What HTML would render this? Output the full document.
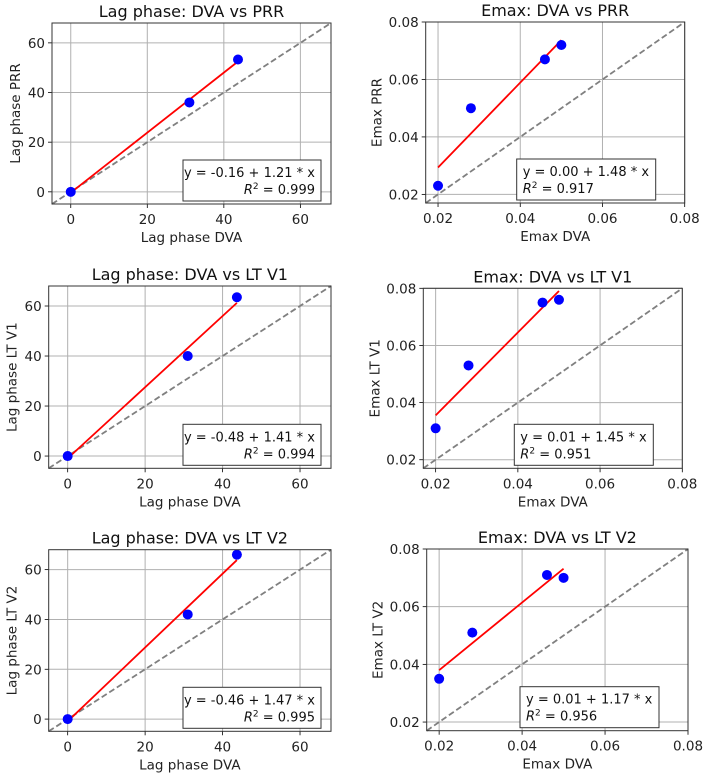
<!DOCTYPE html>
<html><head><meta charset="utf-8">
<style>
html,body{margin:0;padding:0;background:#fff;}
svg{display:block;font-family:"DejaVu Sans","Liberation Sans",sans-serif;}
</style></head>
<body>
<svg id="fig" width="708" height="774" viewBox="0 0 708 774" xmlns="http://www.w3.org/2000/svg"></svg>
<script>
const lagX = [0, 31, 43.7];
const lagPRR = [0, 36, 53.3];
const lagV1 = [0, 40, 63.5];
const lagV2 = [0, 42, 66];
const emaxX = [0.020, 0.028, 0.046, 0.050];
const emaxPRR = [0.023, 0.050, 0.067, 0.072];
const emaxV1 = [0.031, 0.053, 0.075, 0.076];
const emaxV2 = [0.035, 0.051, 0.071, 0.070];
const lagTicks = [0, 20, 40, 60];
const emaxTicks = [0.02, 0.04, 0.06, 0.08];
const lagTickLabels = ["0", "20", "40", "60"];
const emaxTickLabels = ["0.02", "0.04", "0.06", "0.08"];
const eqLabels = ["y = -0.16 + 1.21 * x", "y = 0.00 + 1.48 * x", "y = -0.48 + 1.41 * x", "y = 0.01 + 1.45 * x", "y = -0.46 + 1.47 * x", "y = 0.01 + 1.17 * x"];
const r2Labels = ["0.999", "0.917", "0.994", "0.951", "0.995", "0.956"];
const titles = ["Lag phase: DVA vs PRR", "Emax: DVA vs PRR", "Lag phase: DVA vs LT V1", "Emax: DVA vs LT V1", "Lag phase: DVA vs LT V2", "Emax: DVA vs LT V2"];
const xLabels = ["Lag phase DVA", "Emax DVA", "Lag phase DVA", "Emax DVA", "Lag phase DVA", "Emax DVA"];
const yLabels = ["Lag phase PRR", "Emax PRR", "Lag phase LT V1", "Emax LT V1", "Lag phase LT V2", "Emax LT V2"];

const NS = "http://www.w3.org/2000/svg";
const fig = document.getElementById('fig');
function mk(tag, attrs, parent){const e=document.createElementNS(NS,tag);for(const k in attrs)e.setAttribute(k,attrs[k]);(parent||fig).appendChild(e);return e;}

const boxes = [
 {l:52,r:331,t:23,b:204},{l:425.7,r:684.7,t:22,b:203},
 {l:48.7,r:331,t:286,b:468.3},{l:423.3,r:682.3,t:288.3,b:468.3},
 {l:48.7,r:331,t:549.7,b:731.3},{l:426.7,r:688,t:549,b:730.7}
];
const panels = [
 {xs:lagX,ys:lagPRR,lag:true},{xs:emaxX,ys:emaxPRR,lag:false},
 {xs:lagX,ys:lagV1,lag:true},{xs:emaxX,ys:emaxV1,lag:false},
 {xs:lagX,ys:lagV2,lag:true},{xs:emaxX,ys:emaxV2,lag:false}
];

panels.forEach((p,i)=>{
 const B=boxes[i];
 const lim = p.lag ? [-4.9,68] : [0.0170,0.080];
 const sx=v=>B.l+(v-lim[0])/(lim[1]-lim[0])*(B.r-B.l);
 const sy=v=>B.b-(v-lim[0])/(lim[1]-lim[0])*(B.b-B.t);
 const g=mk('g',{});
 
 
 const ticks=p.lag?lagTicks:emaxTicks, tl=p.lag?lagTickLabels:emaxTickLabels;
 ticks.forEach((t,k)=>{
  mk('line',{x1:sx(t),x2:sx(t),y1:B.t,y2:B.b,stroke:'#b0b0b0','stroke-width':1},g);
  mk('line',{x1:B.l,x2:B.r,y1:sy(t),y2:sy(t),stroke:'#b0b0b0','stroke-width':1},g);
  mk('line',{x1:sx(t),x2:sx(t),y1:B.b,y2:B.b+4,stroke:'#000','stroke-width':0.8},g);
  mk('line',{x1:B.l-4,x2:B.l,y1:sy(t),y2:sy(t),stroke:'#000','stroke-width':0.8},g);
  const xt=mk('text',{x:sx(t),y:B.b+20,'text-anchor':'middle','font-size':13.5,fill:'#222'},g);xt.textContent=tl[k];
  
  
  const yt=mk('text',{x:B.l-7,y:sy(t)+5,'text-anchor':'end','font-size':13.5,fill:'#222'},g);yt.textContent=tl[k];
  
  
 });
 const d=mk('line',{x1:sx(lim[0]),y1:sy(lim[0]),x2:sx(lim[1]),y2:sy(lim[1]),stroke:'#808080','stroke-width':1.8,'stroke-dasharray':'6,3'},g);
 
 
 const n=p.xs.length;let mx=0,my=0;p.xs.forEach((x,k)=>{mx+=x;my+=p.ys[k];});mx/=n;my/=n;
 let sxy=0,sxx=0;p.xs.forEach((x,k)=>{sxy+=(x-mx)*(p.ys[k]-my);sxx+=(x-mx)*(x-mx);});
 const m=sxy/sxx,c=my-m*mx;const x0=Math.min(...p.xs),x1=Math.max(...p.xs);
 const fl=mk('line',{x1:sx(x0),y1:sy(c+m*x0),x2:sx(x1),y2:sy(c+m*x1),stroke:'#f00','stroke-width':1.8},g);
 
 
 p.xs.forEach((x,k)=>{
  const pt=mk('circle',{cx:sx(x),cy:sy(p.ys[k]),r:5,fill:'#0000ff'},g);
  
  
 });
 mk('rect',{x:B.l,y:B.t,width:B.r-B.l,height:B.b-B.t,fill:'none',stroke:'#333','stroke-width':1},g);
 const tt=mk('text',{x:(B.l+B.r)/2,y:B.t-6,'text-anchor':'middle','font-size':16,fill:'#111'},g);tt.textContent=titles[i];
 
 
 const xl=mk('text',{x:(B.l+B.r)/2,y:B.b+38,'text-anchor':'middle','font-size':13.5,fill:'#222'},g);xl.textContent=xLabels[i];
 
 
 const yx=p.lag?B.l-32:B.l-44, yy=(B.t+B.b)/2;
 const yl=mk('text',{x:yx,y:yy,'text-anchor':'middle','font-size':13.5,fill:'#222',transform:`rotate(-90 ${yx} ${yy})`},g);yl.textContent=yLabels[i];
 
 
 let bx,bw=138,bh=41,by=B.b-bh-3;
 if(p.lag){bx=B.r-10-bw;}else{bx=B.r-31-bw+1;bw=139;}
 const lg=mk('g',{},g);
 
 
 mk('rect',{x:bx,y:by,width:bw,height:bh,fill:'#fff',stroke:'#333','stroke-width':1},lg);
 const anchor=p.lag?'end':'start', tx=p.lag?bx+bw-6:bx+6;
 const e1=mk('text',{x:tx,y:by+17,'text-anchor':anchor,'font-size':13,fill:'#111'},lg);e1.textContent=eqLabels[i];
 const e2=mk('text',{x:tx,y:by+34,'text-anchor':anchor,'font-size':13,fill:'#111'},lg);
 const ts=mk('tspan',{'font-style':'italic'},e2);ts.textContent='R';
 const sup=mk('tspan',{'font-size':9,dy:-5},e2);sup.textContent='2';
 const rest=mk('tspan',{dy:5},e2);rest.textContent=' = '+r2Labels[i];
});
</script>
</body></html>
